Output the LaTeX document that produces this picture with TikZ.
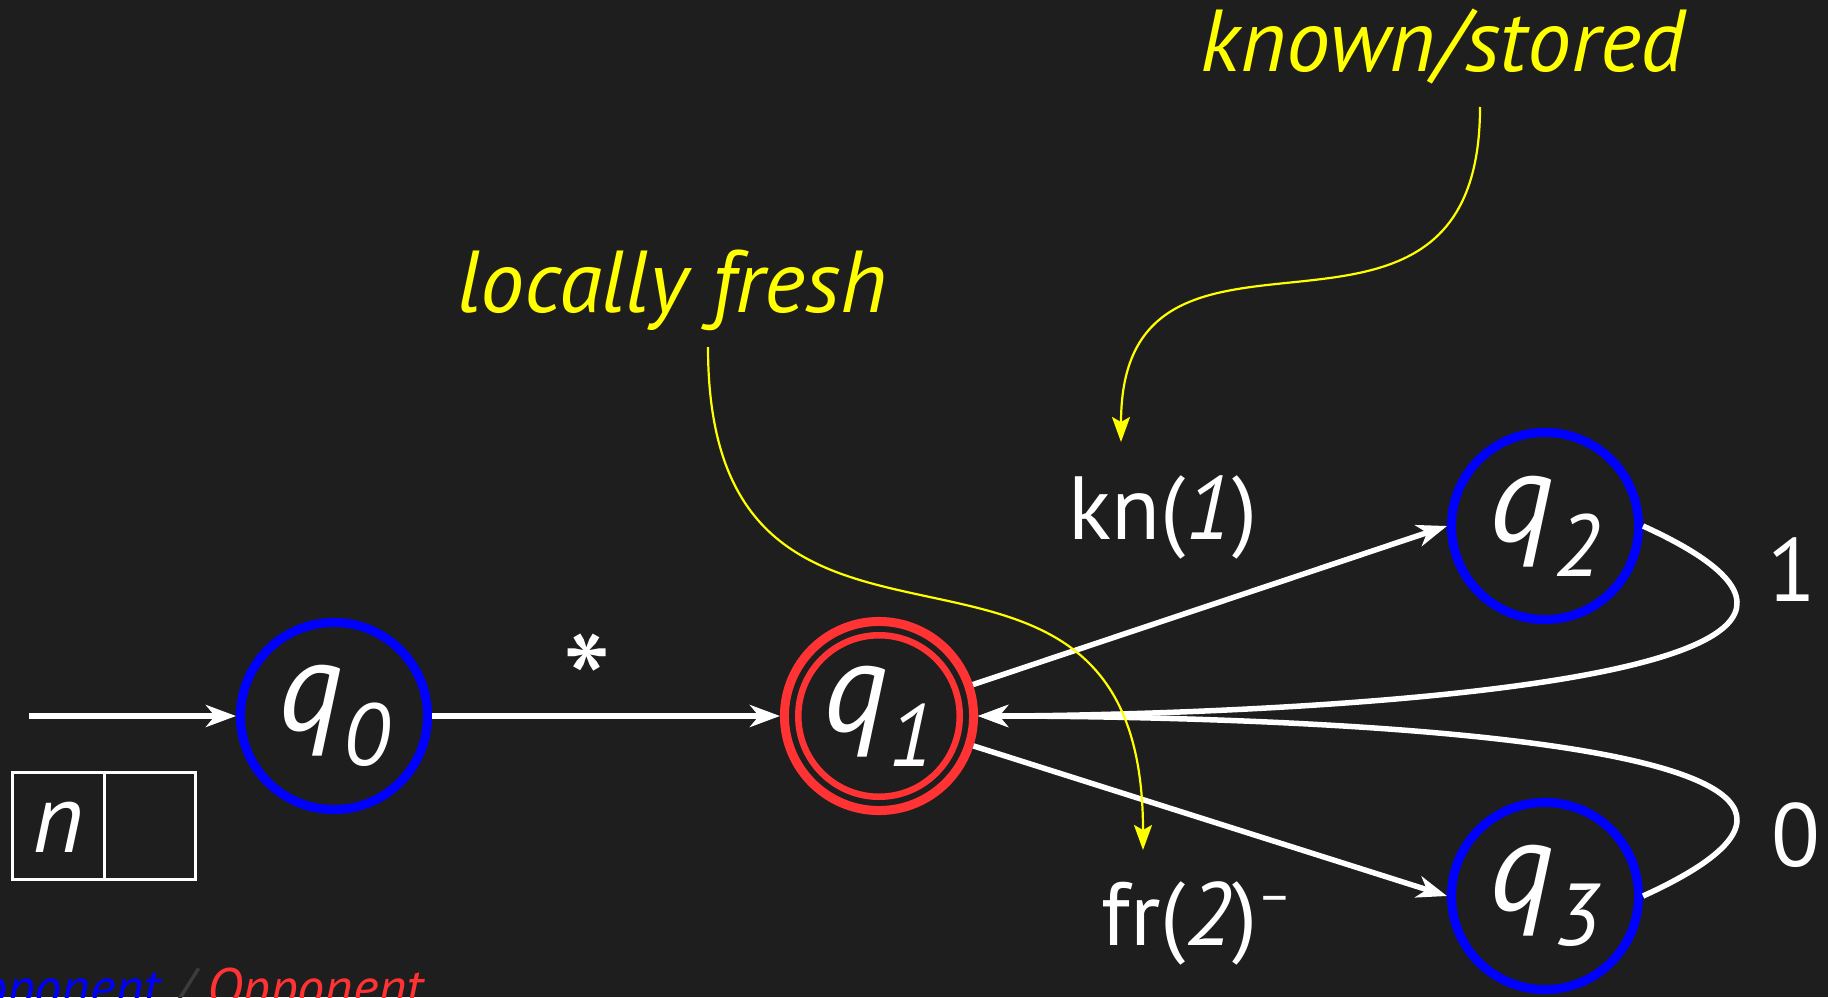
\documentclass[tikz,border=0pt]{standalone}
\usepackage{fontspec}
\setmainfont{PT Sans}
\usetikzlibrary{arrows.meta}
\definecolor{bg}{RGB}{30,30,30}
\definecolor{pblue}{RGB}{0,0,255}
\definecolor{ored}{RGB}{255,51,51}
\definecolor{ylw}{RGB}{255,255,0}
\definecolor{slashgray}{RGB}{60,60,60}
\newcommand{\qs}[1]{{\fontsize{36.5}{40}\selectfont\itshape q}\kern0.01cm\raisebox{-0.35cm}{\fontsize{25}{28}\selectfont\itshape #1}}
\tikzset{
  st/.style={circle, draw=pblue, line width=0.09cm, minimum size=1.87cm, inner sep=0pt, text=white},
  acc/.style={circle, draw=ored, line width=0.09cm, minimum size=1.89cm, inner sep=0pt, text=white},
  conn/.style={draw=white, line width=0.055cm, -{Stealth[length=0.30cm, width=0.22cm, inset=0.09cm]}},
  ann/.style={draw=ylw, line width=0.022cm, -{Stealth[length=0.25cm, width=0.18cm, inset=0.05cm]}},
  lab/.style={text=white, font=\fontsize{25.5}{28}\selectfont, inner sep=0pt, anchor=base},
  note/.style={text=ylw, font=\fontsize{25}{28}\selectfont\itshape, inner sep=0pt, anchor=base},
  cell/.style={draw=white, line width=0.03cm, minimum width=0.91cm, minimum height=1.06cm, inner sep=0pt, text=white, font=\fontsize{28}{30}\selectfont\itshape}
}
\begin{document}
\begin{tikzpicture}[x=0.01cm, y=-0.01cm]
\fill[bg] (0,0) rectangle (1828,997);
\useasboundingbox (0,0) rectangle (1828,997);

% states
\node[st]  (q0) at (334,716) {\qs{0}};
\node[acc] (q1) at (879,716) {\qs{1}};
\draw[ored, line width=0.065cm] (q1.center) circle[radius=0.807cm];
\node[st]  (q2) at (1545,526) {\qs{2}};
\node[st]  (q3) at (1545,896) {\qs{3}};

% initial register box
\node[cell, text height=0.52cm, text depth=0pt] (c1) at (58.5,826) {n};
\node[cell] (c2) at (149.75,826) {};

% initial arrow
\coordinate (init) at (29,716);
\draw[conn] (init) -- (q0);

% transitions
\draw[conn] (q0) -- node[pos=0.445, lab, font=\fontsize{40}{40}\selectfont, yshift=-0.18cm] (star) {*} (q1);
\draw[conn] (q1) -- (q2.west);
\draw[conn] (q1) -- (q3.west);
\draw[conn] (q2.east) .. controls +(377,172) and +(173,0) .. (q1.east);
\draw[conn] (q3.east) .. controls +(377,-172) and +(173,0) .. (q1.east);

% labels
\node[lab] (lkn) at (1163,539) {kn(\textit{1})};
\node[lab] (lfr) at (1197,945) {fr(\textit{2})\raisebox{9pt}{\fontsize{15}{16}\selectfont –}};
\node[lab] (l1) at (1792,601) {1};
\node[lab] (l0) at (1796,866) {0};

% annotations
\node[note] (known) at (1443,72) {known/stored};
\node[note] (fresh) at (672,312) {locally fresh};
\coordinate (knownfrom) at (1480,107);
\coordinate (knownto) at (1121,442);
\coordinate (freshfrom) at (708,347);
\coordinate (freshto) at (1143,850);
\draw[ann] (knownfrom) .. controls +(0,300) and +(0,-275) .. (knownto);
\draw[ann] (freshfrom) .. controls +(0,400) and +(0,-400) .. (freshto);

% legend
\node[anchor=base east, inner sep=0pt, font=\fontsize{15.4}{17}\selectfont\itshape] (legend) at (424,1006)
  {\textcolor{pblue}{Proponent} \textcolor{slashgray}{/} \textcolor{ored}{Opponent}};
\end{tikzpicture}
\end{document}
